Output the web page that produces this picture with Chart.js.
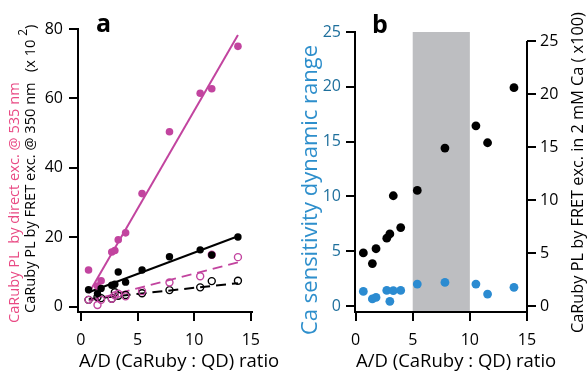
<!DOCTYPE html>
<html>
<head>
<meta charset="utf-8">
<script src="https://cdn.jsdelivr.net/npm/chart.js@4.4.0/dist/chart.umd.min.js"></script>
<style>
  body { margin: 0; background: #fff; width: 587px; height: 372px; overflow: hidden; position: relative; }
  canvas { position: absolute; top: 0; }
  #chartA { left: 0; }
  #chartB { left: 290px; }
</style>
</head>
<body>
<canvas id="chartA" width="290" height="372"></canvas>
<canvas id="chartB" width="297" height="372"></canvas>
<script>
// data
const ratios = [0.68, 1.47, 1.79, 2.73, 3.0, 3.3, 3.95, 5.4, 7.82, 10.53, 11.55, 13.86];

// panel a (x 10^2)
const directFilled = [10.6, 6.0, 7.5, 15.8, 16.2, 19.3, 21.3, 32.6, 50.4, 61.5, 62.8, 75.0];
const fretFilled   = [4.9, 3.8, 5.3, 6.2, 6.5, 10.0, 7.1, 10.6, 14.4, 16.4, 14.9, 20.1];
const directOpen   = [2.0, 0.5, 2.0, 2.3, 3.3, 3.8, 3.0, 4.5, 7.0, 8.8, 15.0, 14.3];
const fretOpen     = [2.0, 2.8, 2.5, 2.3, 4.2, 3.2, 3.4, 3.9, 4.8, 5.6, 7.4, 7.5];
const fitX         = [0.7, 13.86];
const directFit    = [3.9, 78.3];
const fretFit      = [4.2, 20.3];
const directOpenFit = [1.7, 12.8];
const fretOpenFit  = [2.2, 6.8];

// panel b
const dynRange = [1.33, 0.64, 0.78, 1.42, 0.42, 1.40, 1.42, 2.0, 2.15, 2.0, 1.09, 1.70];
const fretCa   = [5.0, 4.0, 5.4, 6.4, 6.8, 10.4, 7.4, 10.9, 14.9, 17.0, 15.4, 20.6];
const band     = [5, 10];

// ticks
const xTicks  = [0, 5, 10, 15];
const yTicksA = [0, 20, 40, 60, 80];
const yTicksB = [0, 5, 10, 15, 20, 25];

const MAGENTA = '#c2449f';
const PINK_TXT = '#e94a84';
const BLUE = '#2b8bd1';
const BLUE_TICK = '#1e6f9c';
const FONT = "'Open Sans', sans-serif";
const X_TITLE = 'A/D (CaRuby : QD) ratio';

Chart.defaults.font.family = FONT;
Chart.defaults.color = '#000';

function pts(xs, ys) { return xs.map((x, i) => ({x: x, y: ys[i]})); }
function fixedTicks(values) { return scale => { scale.ticks = values.map(v => ({value: v})); }; }

function axis(extra) {
  return Object.assign({
    type: 'linear',
    grid: { display: true, drawOnChartArea: false, drawTicks: true, tickLength: 9, color: '#000', lineWidth: 2 },
    border: { display: true, color: '#000', width: 2 },
    ticks: { font: { size: 16 }, color: '#000', padding: 10 }
  }, extra);
}

function dots(data, color, r, open) {
  return {
    data: data,
    pointRadius: r,
    pointHoverRadius: r,
    pointBackgroundColor: open ? 'rgba(0,0,0,0)' : color,
    pointBorderColor: color,
    pointBorderWidth: open ? 1.4 : 0,
    showLine: false
  };
}
function fit(data, color, dash) {
  return {
    data: data, showLine: true, pointRadius: 0, borderColor: color,
    borderWidth: 2, borderDash: dash ? [10, 6] : []
  };
}

function rotText(ctx, text, x, y, font, color) {
  ctx.save();
  ctx.translate(x, y);
  ctx.rotate(-Math.PI / 2);
  ctx.font = font;
  ctx.fillStyle = color;
  ctx.textBaseline = 'middle';
  ctx.textAlign = 'left';
  ctx.fillText(text, 0, 0);
  ctx.restore();
}

function xTitle(chart) {
  const ctx = chart.ctx;
  ctx.save();
  ctx.font = '18.5px ' + FONT;
  ctx.fillStyle = '#000';
  ctx.textAlign = 'left';
  ctx.textBaseline = 'alphabetic';
  ctx.fillText(X_TITLE, chart.chartArea.left + 1, 367);
  ctx.restore();
}

// panel a titles
const titlesA = {
  id: 'titlesA',
  afterDraw(chart) {
    const ctx = chart.ctx;
    xTitle(chart);
    rotText(ctx, 'CaRuby PL  by direct exc. @ 535 nm', 15, 323, '14.6px ' + FONT, PINK_TXT);
    rotText(ctx, 'CaRuby PL by FRET exc. @ 350 nm', 31, 313, '14.6px ' + FONT, '#000');
    // (x 10^2)
    ctx.save();
    ctx.translate(31, 72);
    ctx.rotate(-Math.PI / 2);
    ctx.fillStyle = '#000';
    ctx.textBaseline = 'middle';
    ctx.font = '14.6px ' + FONT;
    let w = ctx.measureText('(x 10 ').width;
    ctx.fillText('(x 10 ', 0, 0);
    ctx.font = '12px ' + FONT;
    ctx.fillText('2', w, -7);
    w += ctx.measureText('2').width;
    ctx.font = '14.6px ' + FONT;
    ctx.fillText(')', w, 0);
    ctx.restore();
    ctx.save();
    ctx.font = 'bold 25px ' + FONT;
    ctx.fillStyle = '#000';
    ctx.fillText('a', 96, 32);
    ctx.restore();
  }
};

new Chart(document.getElementById('chartA'), {
  type: 'scatter',
  data: {
    datasets: [
      dots(pts(ratios, fretFilled), '#000', 3.7, false),
      dots(pts(ratios, directFilled), MAGENTA, 3.8, false),
      dots(pts(ratios, directOpen), MAGENTA, 3.5, true),
      dots(pts(ratios, fretOpen), '#000', 3.5, true),
      fit(pts(fitX, directFit), MAGENTA, false),
      fit(pts(fitX, fretFit), '#000', false),
      fit(pts(fitX, directOpenFit), MAGENTA, true),
      fit(pts(fitX, fretOpenFit), '#000', true)
    ]
  },
  options: {
    responsive: false,
    animation: false,
    devicePixelRatio: 1,
    layout: { padding: { left: 0, right: 38, top: 29, bottom: 0 } },
    plugins: { legend: { display: false }, tooltip: { enabled: false } },
    scales: {
      x: axis({
        min: -0.25, max: 15.1,
        afterBuildTicks: fixedTicks(xTicks),
        afterFit: s => { s.height = 60; }
      }),
      y: axis({
        min: -1.5, max: 80,
        afterBuildTicks: fixedTicks(yTicksA),
        afterFit: s => { s.width = 78; },
        ticks: { font: { size: 16 }, color: '#000', padding: 6 }
      })
    }
  },
  plugins: [titlesA]
});

// panel b
const bandAndTitles = {
  id: 'bandAndTitles',
  beforeDatasetsDraw(chart) {
    const ctx = chart.ctx, a = chart.chartArea, x = chart.scales.x;
    const x0 = x.getPixelForValue(band[0]), x1 = x.getPixelForValue(band[1]);
    ctx.save();
    ctx.fillStyle = '#bdbec1';
    ctx.fillRect(x0, a.top, x1 - x0, a.bottom - a.top - 1);
    ctx.restore();
  },
  afterDraw(chart) {
    const ctx = chart.ctx, a = chart.chartArea, y2 = chart.scales.y2;
    ctx.save();
    ctx.strokeStyle = '#000';
    ctx.lineWidth = 2;
    ctx.beginPath();
    ctx.moveTo(a.right, y2.getPixelForValue(yTicksB[yTicksB.length - 1]));
    ctx.lineTo(a.right, a.bottom + 1);
    ctx.stroke();
    ctx.restore();
    xTitle(chart);
    rotText(ctx, 'Ca sensitivity dynamic range', 21, 335, '22px ' + FONT, '#2e8fcc');
    rotText(ctx, 'CaRuby PL by FRET exc. in 2 mM Ca ( x100)', 288, 333, '16.3px ' + FONT, '#000');
    ctx.save();
    ctx.font = 'bold 25px ' + FONT;
    ctx.fillStyle = '#000';
    ctx.fillText('b', 82, 33);
    ctx.restore();
  }
};

new Chart(document.getElementById('chartB'), {
  type: 'scatter',
  data: {
    datasets: [
      Object.assign(dots(pts(ratios, fretCa), '#000', 4.4, false), { yAxisID: 'y2' }),
      Object.assign(dots(pts(ratios, dynRange), BLUE, 4.4, false), { yAxisID: 'y' })
    ]
  },
  options: {
    responsive: false,
    animation: false,
    devicePixelRatio: 1,
    layout: { padding: { left: 0, right: 0, top: 32, bottom: 0 } },
    plugins: { legend: { display: false }, tooltip: { enabled: false } },
    scales: {
      x: axis({
        min: -0.05, max: 15,
        afterBuildTicks: fixedTicks(xTicks),
        afterFit: s => { s.height = 60; }
      }),
      y: axis({
        position: 'left',
        min: -0.55, max: 25,
        afterBuildTicks: fixedTicks(yTicksB),
        afterFit: s => { s.width = 65; },
        ticks: { font: { size: 16 }, color: BLUE_TICK, padding: 5 }
      }),
      y2: axis({
        position: 'right',
        min: -0.57, max: 25.85,
        afterBuildTicks: fixedTicks(yTicksB),
        afterFit: s => { s.width = 60; },
        border: { display: false },
        ticks: { font: { size: 16 }, color: '#000', padding: 4 }
      })
    }
  },
  plugins: [bandAndTitles]
});
</script>
</body>
</html>
